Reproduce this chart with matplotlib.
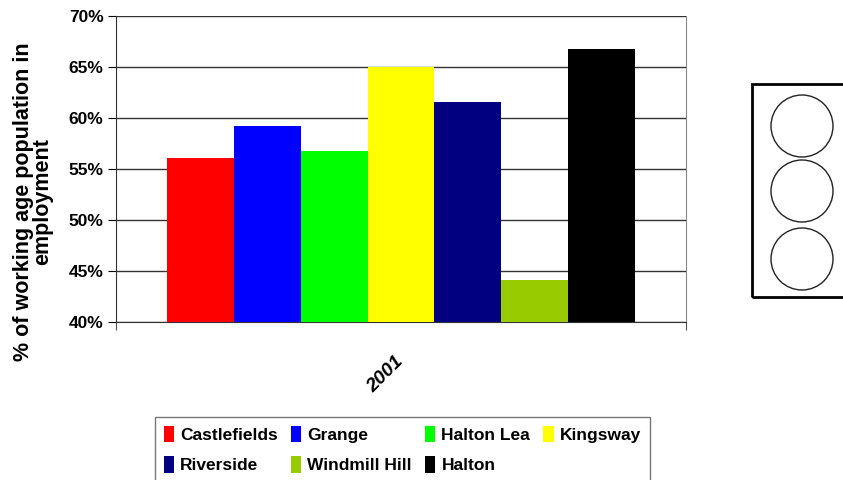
import matplotlib.pyplot as plt
from matplotlib.patches import Rectangle, Circle

plt.rcParams['font.family'] = ['Liberation Sans', 'DejaVu Sans']
plt.rcParams['font.weight'] = 'bold'

# --- data ---------------------------------------------------------
areas  = ["Castlefields", "Grange", "Halton Lea", "Kingsway",
          "Riverside", "Windmill Hill", "Halton"]
values = [56.1, 59.2, 56.8, 65.0, 61.6, 44.1, 66.8]
colors = ["#FF0000", "#0000FF", "#00FF00", "#FFFF00",
          "#000080", "#99CC00", "#000000"]
year   = "2001"
yticks = [40, 45, 50, 55, 60, 65, 70]

# --- figure -------------------------------------------------------
fig = plt.figure(figsize=(8.43, 4.8), dpi=100)
ax = fig.add_axes([116/843, 1 - 322/480, 570/843, 306/480])

w = 0.1175
handles = []
for i, (a, v, c) in enumerate(zip(areas, values, colors)):
  b = ax.bar(0.5 + (i - 3) * w, v - 40, bottom=40, width=w,
             color=c, linewidth=0, label=a, zorder=3)
  handles.append(b)

ax.set_xlim(0, 1)
ax.set_ylim(40, 70)
ax.set_yticks(yticks)
ax.set_yticklabels([f"{t}%" for t in yticks], fontsize=12.5, fontweight='bold')
ax.yaxis.grid(True, color='#333333', linewidth=1.0, zorder=0)
ax.set_axisbelow(True)

ax.set_xticks([0, 1])
ax.set_xticklabels([])
ax.tick_params(axis='x', length=6, direction='out', color='#555555')
ax.tick_params(axis='y', length=6, direction='out', pad=3)
ax.text(0.472, -0.173, year, transform=ax.transAxes, rotation=45,
        ha='center', va='center', fontsize=14, fontweight='bold',
        fontstyle='italic')

ax.spines['top'].set_visible(False)
ax.spines['right'].set_color('#888888')
ax.spines['left'].set_color('#333333')
ax.spines['bottom'].set_color('#333333')

fig.text(33/843, 1 - 202/480, "% of working age population in\nemployment",
         rotation=90, ha='center', va='center', fontsize=15.5,
         fontweight='bold', linespacing=0.85)

# --- legend (row-wise order) -------------------------------------
order = [0, 4, 1, 5, 2, 6, 3]
leg = fig.legend([handles[k] for k in order], [areas[k] for k in order],
                 loc='upper left', bbox_to_anchor=(155/843, 1 - 417/480),
                 ncol=4, prop={'weight': 'bold', 'size': 12.5},
                 frameon=True, fancybox=False,
                 edgecolor='#555555', handlelength=0.6, handleheight=1.1,
                 handletextpad=0.35, columnspacing=0.75, labelspacing=0.75,
                 borderpad=0.5, borderaxespad=0)
leg.get_frame().set_linewidth(1.0)

# --- traffic light box -------------------------------------------
fig.patches.append(Rectangle((752/843, 1 - 297/480), 110/843, 213/480,
                             transform=fig.transFigure, fill=False,
                             edgecolor='black', linewidth=2))
for cy in [126, 191, 259]:
  fig.patches.append(Circle((802, 480 - cy), 31, transform=None,
                            fill=False, edgecolor='#222222', linewidth=1))

fig.savefig("out.png", dpi=100)
